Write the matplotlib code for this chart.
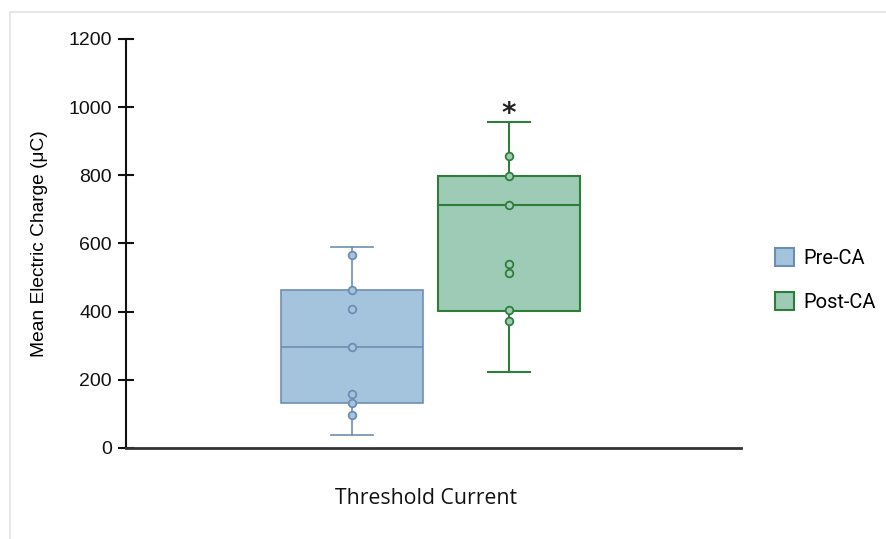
import matplotlib
matplotlib.use("Agg")
import matplotlib.pyplot as plt
from matplotlib.patches import Patch, Rectangle

# Data
groups = ["Pre-CA", "Post-CA"]
pre_points = [567, 464, 409, 296, 158, 132, 98]
post_points = [857, 799, 713, 541, 512, 404, 372]
# Box summary: whisker low, Q1, median, Q3, whisker high
pre_stats = [39, 132, 296, 464, 589]
post_stats = [224, 403, 713, 799, 956]
significance = ["", "*"]
y_ticks = [0, 200, 400, 600, 800, 1000, 1200]
x_label = "Threshold Current"
y_label = "Mean Electric Charge (μC)"

fills = ["#a3c4dc", "#9dcbb5"]
edges = ["#6e8db4", "#2f7d3b"]
edge_widths = [1.2, 1.5]
positions = [1.47, 2.49]

fig = plt.figure(figsize=(8.87, 5.39), dpi=100)
fig.patches.append(Rectangle((10 / 887, -0.1), 1.2, (539 - 12) / 539 + 0.1,
                             transform=fig.transFigure, fill=False,
                             edgecolor="#e2e2e2", linewidth=1.2))

ax = fig.add_axes([126 / 887, (539 - 448) / 539, (741 - 126) / 887, (448 - 39) / 539])

for i, (stats, pts) in enumerate([(pre_stats, pre_points), (post_stats, post_points)]):
    lo, q1, med, q3, hi = stats
    bstats = [dict(whislo=lo, q1=q1, med=med, q3=q3, whishi=hi, fliers=[])]
    lw = edge_widths[i]
    ax.bxp(bstats, positions=[positions[i]], widths=0.924, patch_artist=True,
           showfliers=False,
           boxprops=dict(facecolor=fills[i], edgecolor=edges[i], linewidth=lw),
           medianprops=dict(color=edges[i], linewidth=lw),
           whiskerprops=dict(color=edges[i], linewidth=lw),
           capprops=dict(color=edges[i], linewidth=lw),
           capwidths=0.273, manage_ticks=False, zorder=2)
    ax.plot([positions[i]] * len(pts), pts, linestyle="none", marker="o",
            markersize=5.5, markerfacecolor=fills[i], markeredgecolor=edges[i],
            markeredgewidth=1.3, zorder=3)
    if significance[i]:
        ax.annotate(significance[i], xy=(positions[i], hi), xytext=(0, 6),
                    textcoords="offset points", ha="center", va="center",
                    fontsize=20, fontweight="bold", color="#222222",
                    family="DejaVu Sans")

ax.set_xlim(0, 4)
ax.set_ylim(0, 1200)
ax.set_yticks(y_ticks)
ax.set_xticks([])
for s in ["top", "right"]:
    ax.spines[s].set_visible(False)
ax.spines["left"].set_linewidth(1.5)
ax.spines["bottom"].set_linewidth(2.0)
ax.spines["left"].set_color("#111111")
ax.spines["bottom"].set_color("#333333")
ax.tick_params(axis="y", direction="inout", length=12, width=1.5, pad=4,
               labelsize=14, colors="#111111")
for lab in ax.get_yticklabels():
    lab.set_family("Liberation Sans")

ax.set_ylabel(y_label, fontsize=13.8, family="Liberation Sans", labelpad=15)
fig.text(426 / 887, 1 - 499 / 539, x_label, ha="center", va="center",
         fontsize=15.3, family="Open Sans", color="#111111")

handles = [Patch(facecolor=fills[i], edgecolor=edges[i], linewidth=1.5, label=groups[i])
           for i in range(2)]
fig.legend(handles=handles, loc="center left", bbox_to_anchor=(757 / 887, 1 - 280 / 539),
           frameon=False, handlelength=0.95, handleheight=1.0,
           handletextpad=0.45, labelspacing=1.22, prop={"family": "Roboto", "size": 14.5})

fig.savefig("out.png", dpi=100)
